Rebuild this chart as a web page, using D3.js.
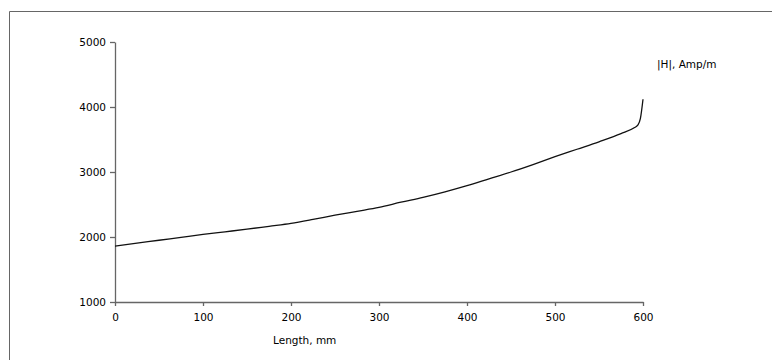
<!DOCTYPE html>
<html><head><meta charset="utf-8">
<script src="https://cdn.jsdelivr.net/npm/d3@7"></script>
<style>body{margin:0;background:#fff;}svg{display:block;}</style>
</head><body>
<script>
const lengths = [0,25,50,75,100,125,150,175,200,225,250,275,300,325,350,375,400,425,450,475,500,525,550,575,590,594,597,600];
const hValues = [1860,1905,1950,1995,2040,2080,2120,2165,2210,2270,2335,2395,2455,2535,2610,2695,2790,2895,3000,3115,3235,3350,3465,3590,3680,3720,3820,4120];
const xTicks = [0,100,200,300,400,500,600];
const yTicks = [1000,2000,3000,4000,5000];
const xLabel = "Length, mm";
const yLabel = "|H|, Amp/m";

const W=772,H=360;
const svg=d3.select("body").append("svg").attr("width",W).attr("height",H);
// frame
svg.append("path").attr("d","M9.5,360 V11.5 H772").attr("fill","none").attr("stroke","#666").attr("stroke-width",1);

const x=d3.scaleLinear().domain([0,600]).range([115,643]);
const y=d3.scaleLinear().domain([1000,5000]).range([302,42]);
const font="'DejaVu Sans', Verdana, sans-serif";

const gx=svg.append("g").attr("transform","translate(0,302)")
  .call(d3.axisBottom(x).tickValues(xTicks).tickFormat(d3.format("d")).tickSize(4).tickSizeOuter(0).tickPadding(8));
const gy=svg.append("g").attr("transform","translate(115,0)")
  .call(d3.axisLeft(y).tickValues(yTicks).tickFormat(d3.format("d")).tickSize(5).tickSizeOuter(0).tickPadding(4));
[gx,gy].forEach(g=>{
  g.selectAll("path,line").attr("stroke","#666").attr("stroke-width",1.3);
  g.selectAll("text").attr("fill","#000").style("font-family",font).style("font-size","10.5px");
});

svg.append("path").datum(lengths.map((d,i)=>[d,hValues[i]]))
  .attr("d",d3.line().curve(d3.curveMonotoneX).x(d=>x(d[0])).y(d=>y(d[1])))
  .attr("fill","none").attr("stroke","#111").attr("stroke-width",1.3);

svg.append("text").attr("x",273).attr("y",344).text(xLabel)
  .style("font-family",font).style("font-size","10.5px").attr("fill","#000");
svg.append("text").attr("x",657).attr("y",68).text(yLabel)
  .style("font-family",font).style("font-size","10.5px").attr("fill","#000");
</script>
</body></html>
